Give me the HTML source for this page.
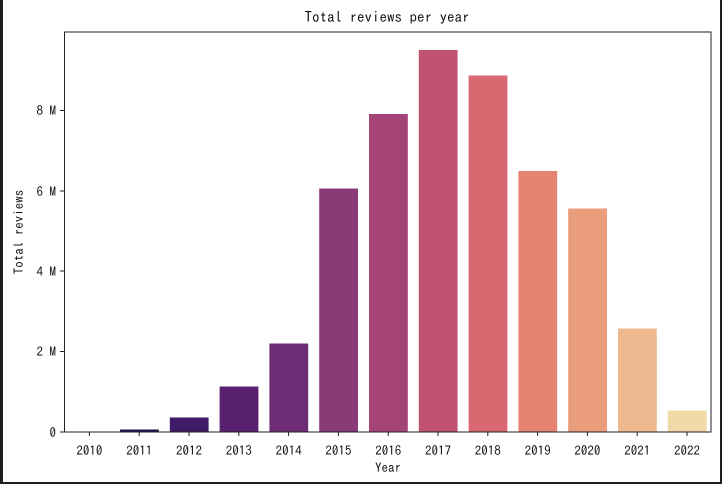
<!DOCTYPE html>
<html><head><style>
html,body{margin:0;padding:0;background:#1e1e1e;}
svg{display:block;}
text{font-family:"IPAGothic","Liberation Mono",monospace;fill:#111;}
</style></head><body>
<svg width="722" height="484" xmlns="http://www.w3.org/2000/svg">
<rect x="3" y="0" width="717" height="482" fill="#fff"/>
<text x="387" y="22" font-size="15" text-anchor="middle">Total reviews per year</text>
<g stroke="#fff" stroke-width="1">
<rect x="119.5" y="429" width="39.8" height="3" fill="#221150"/>
<rect x="169.3" y="417" width="39.8" height="15" fill="#3f1a66"/>
<rect x="219.1" y="386" width="39.8" height="46" fill="#5a2070"/>
<rect x="268.9" y="343" width="39.8" height="89" fill="#6f2c76"/>
<rect x="318.7" y="188" width="39.8" height="244" fill="#8b3a78"/>
<rect x="368.5" y="113.5" width="39.8" height="318.5" fill="#a54476"/>
<rect x="418.3" y="49.5" width="39.8" height="382.5" fill="#c05272"/>
<rect x="468.1" y="75" width="39.8" height="357" fill="#d96870"/>
<rect x="517.9" y="170.5" width="39.8" height="261.5" fill="#e58470"/>
<rect x="567.7" y="208" width="39.8" height="224" fill="#e99d7a"/>
<rect x="617.5" y="328" width="39.8" height="104" fill="#eeb98e"/>
<rect x="667.3" y="410" width="39.8" height="22" fill="#f1d9a8"/>
</g>
<rect x="64.5" y="32" width="646.5" height="400" fill="none" stroke="#222" stroke-width="1"/>
<g stroke="#222" stroke-width="1">
<line x1="60" y1="432" x2="64.5" y2="432"/>
<line x1="60" y1="351.5" x2="64.5" y2="351.5"/>
<line x1="60" y1="271" x2="64.5" y2="271"/>
<line x1="60" y1="191" x2="64.5" y2="191"/>
<line x1="60" y1="110.5" x2="64.5" y2="110.5"/>
</g>
<g font-size="13" text-anchor="end">
<text x="56" y="437">0</text>
<text x="56" y="356">2 M</text>
<text x="56" y="276">4 M</text>
<text x="56" y="196">6 M</text>
<text x="56" y="115">8 M</text>
</g>
<g stroke="#222" stroke-width="1">
<line x1="89.4" y1="432" x2="89.4" y2="436"/><line x1="139.2" y1="432" x2="139.2" y2="436"/>
<line x1="189" y1="432" x2="189" y2="436"/><line x1="238.8" y1="432" x2="238.8" y2="436"/>
<line x1="288.6" y1="432" x2="288.6" y2="436"/><line x1="338.4" y1="432" x2="338.4" y2="436"/>
<line x1="388.2" y1="432" x2="388.2" y2="436"/><line x1="438" y1="432" x2="438" y2="436"/>
<line x1="487.8" y1="432" x2="487.8" y2="436"/><line x1="537.6" y1="432" x2="537.6" y2="436"/>
<line x1="587.4" y1="432" x2="587.4" y2="436"/><line x1="637.2" y1="432" x2="637.2" y2="436"/>
<line x1="687" y1="432" x2="687" y2="436"/>
</g>
<g font-size="13" text-anchor="middle">
<text x="89.4" y="455">2010</text><text x="139.2" y="455">2011</text>
<text x="189" y="455">2012</text><text x="238.8" y="455">2013</text>
<text x="288.6" y="455">2014</text><text x="338.4" y="455">2015</text>
<text x="388.2" y="455">2016</text><text x="438" y="455">2017</text>
<text x="487.8" y="455">2018</text><text x="537.6" y="455">2019</text>
<text x="587.4" y="455">2020</text><text x="637.2" y="455">2021</text>
<text x="687" y="455">2022</text>
<text x="388" y="472">Year</text>
<text x="0" y="0" transform="translate(23,232) rotate(-90)">Total reviews</text>
</g>
</svg>
</body></html>
